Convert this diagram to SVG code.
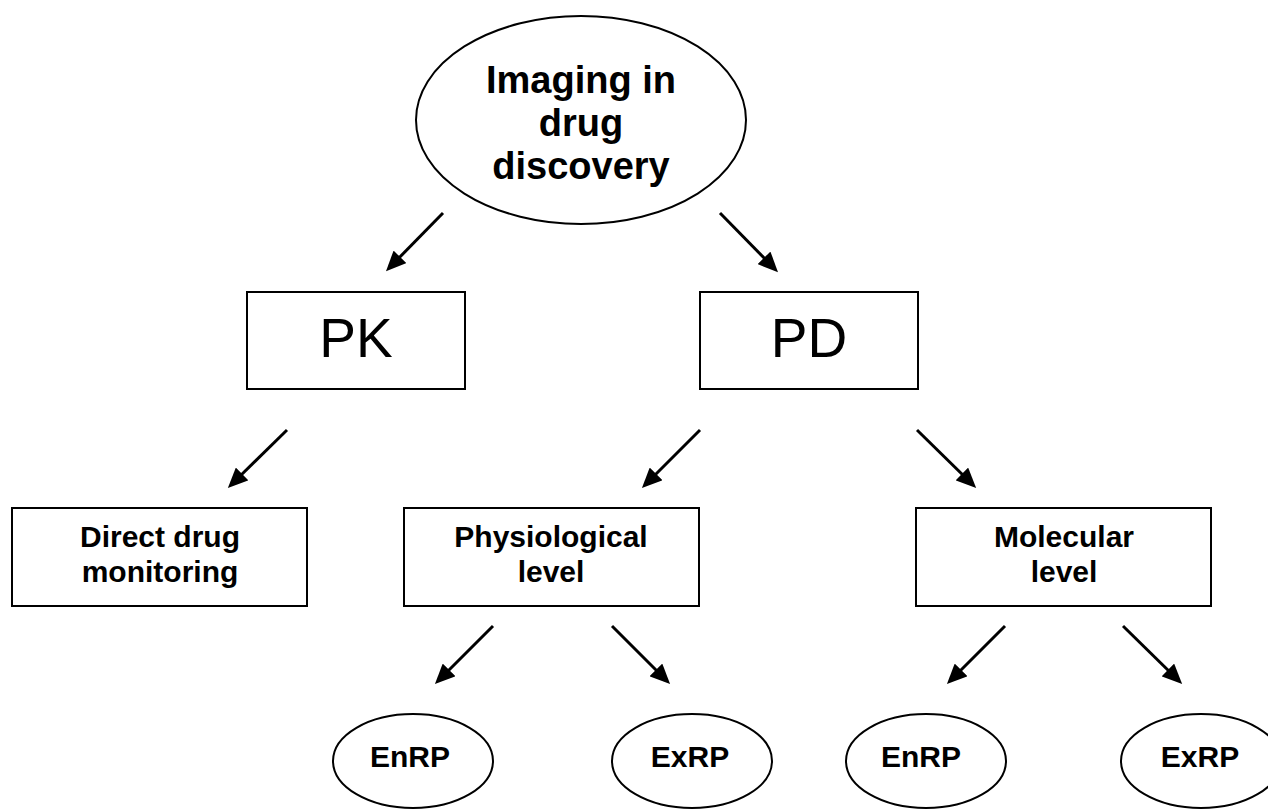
<svg xmlns="http://www.w3.org/2000/svg" width="1268" height="810" viewBox="0 0 1268 810">
  <style>
    .shape { fill: #ffffff; stroke: #000000; stroke-width: 2; }
    .bold { font-family: "Liberation Sans", Arial, sans-serif; font-weight: bold; fill: #000000; text-anchor: middle; }
    .big { font-size: 38px; }
    .mid { font-size: 30px; }
    .reg { font-family: "Liberation Sans", Arial, sans-serif; font-weight: normal; font-size: 55px; fill: #000000; text-anchor: middle; }
    .arrow { stroke: #000000; stroke-width: 3; fill: none; marker-end: url(#head); }
  </style>
  <defs>
    <marker id="head" markerUnits="userSpaceOnUse" viewBox="0 0 20 18" refX="10" refY="9" markerWidth="20" markerHeight="18" orient="auto">
      <path d="M0,0 L20,9 L0,18 z" fill="#000000"/>
    </marker>
  </defs>
  <rect width="1268" height="810" fill="#ffffff"/>

  <g id="connectors">
    <line class="arrow" x1="443" y1="213" x2="393" y2="264"/>
    <line class="arrow" x1="720" y1="213" x2="771" y2="265"/>
    <line class="arrow" x1="287" y1="430" x2="235" y2="481"/>
    <line class="arrow" x1="700" y1="430" x2="649" y2="481"/>
    <line class="arrow" x1="917" y1="430" x2="969" y2="481"/>
    <line class="arrow" x1="493" y1="626" x2="442" y2="677"/>
    <line class="arrow" x1="612" y1="626" x2="663" y2="677"/>
    <line class="arrow" x1="1005" y1="626" x2="954" y2="677"/>
    <line class="arrow" x1="1123" y1="626" x2="1175" y2="677"/>
  </g>

  <g id="imaging">
    <ellipse class="shape" cx="581" cy="120" rx="165" ry="104"/>
    <text class="bold big" x="581" y="93">Imaging in</text>
    <text class="bold big" x="581" y="136">drug</text>
    <text class="bold big" x="581" y="179">discovery</text>
  </g>

  <g id="pk">
    <rect class="shape" x="247" y="292" width="218" height="97"/>
    <text class="reg" x="356" y="357">PK</text>
  </g>

  <g id="pd">
    <rect class="shape" x="700" y="292" width="218" height="97"/>
    <text class="reg" x="809" y="357">PD</text>
  </g>

  <g id="direct">
    <rect class="shape" x="12" y="508" width="295" height="98"/>
    <text class="bold mid" x="160" y="547">Direct drug</text>
    <text class="bold mid" x="160" y="582">monitoring</text>
  </g>

  <g id="physiological">
    <rect class="shape" x="404" y="508" width="295" height="98"/>
    <text class="bold mid" x="551" y="547">Physiological</text>
    <text class="bold mid" x="551" y="582">level</text>
  </g>

  <g id="molecular">
    <rect class="shape" x="916" y="508" width="295" height="98"/>
    <text class="bold mid" x="1064" y="547">Molecular</text>
    <text class="bold mid" x="1064" y="582">level</text>
  </g>

  <g id="enrp1">
    <ellipse class="shape" cx="413" cy="761" rx="80" ry="47"/>
    <text class="bold mid" x="410" y="767">EnRP</text>
  </g>

  <g id="exrp1">
    <ellipse class="shape" cx="692" cy="761" rx="80" ry="47"/>
    <text class="bold mid" x="690" y="767">ExRP</text>
  </g>

  <g id="enrp2">
    <ellipse class="shape" cx="926" cy="761" rx="80" ry="47"/>
    <text class="bold mid" x="921" y="767">EnRP</text>
  </g>

  <g id="exrp2">
    <ellipse class="shape" cx="1201" cy="761" rx="80" ry="47"/>
    <text class="bold mid" x="1200" y="767">ExRP</text>
  </g>
</svg>
